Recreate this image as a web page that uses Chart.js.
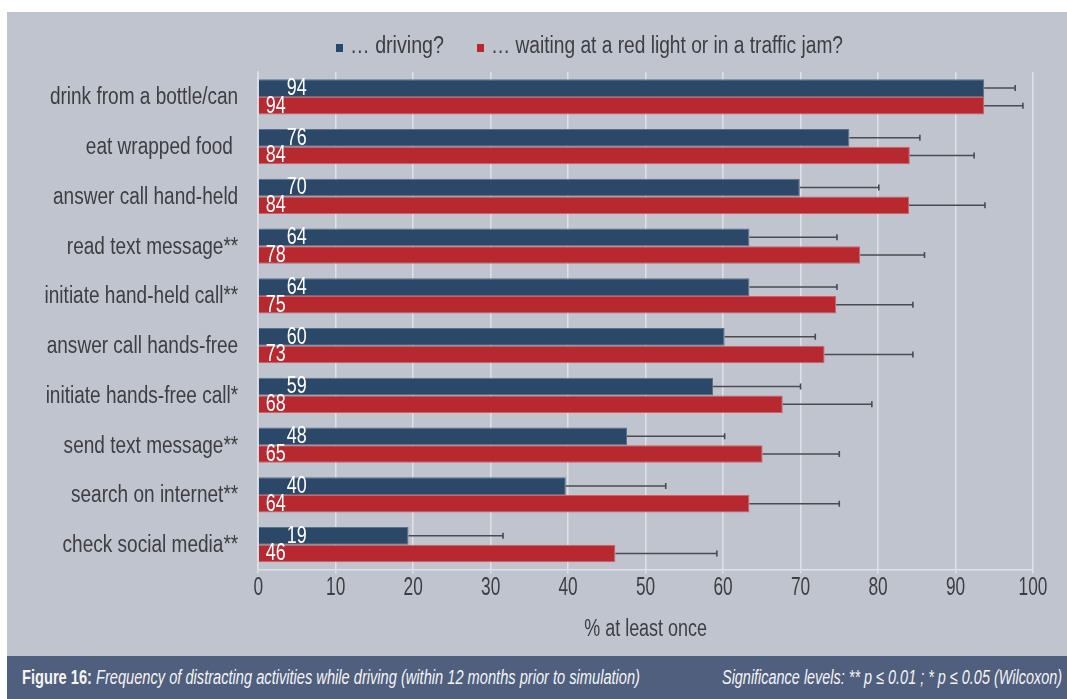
<!DOCTYPE html>
<html>
<head>
<meta charset="utf-8">
<script src="https://cdn.jsdelivr.net/npm/chart.js@4.4.1/dist/chart.umd.min.js"></script>
<style>
  html, body { margin: 0; padding: 0; background: #ffffff; }
  body { width: 1067px; height: 699px; position: relative; overflow: hidden;
         font-family: "Liberation Sans", Arial, sans-serif; }
  #panel { position: absolute; left: 7px; top: 12px; width: 1060px; height: 644px; background: #c0c4cf; }
  #chart-wrap { position: absolute; left: 0; top: 0; width: 1060px; height: 644px; }
  .leg { position: absolute; top: 15px; font-size: 23px; color: #3e3e42; white-space: nowrap; line-height: 36px; }
  .leg i { display: inline-block; width: 7px; height: 8px; vertical-align: 1px; }
  .leg span { display: inline-block; transform-origin: left center; }
  #caption { position: absolute; left: 7px; top: 656px; width: 1060px; height: 43px; background: #4f5f7d; color: #f4f4f6;
             font-size: 20px; line-height: 43px; }
  #caption span { position: absolute; left: 0; top: 0; white-space: nowrap; transform-origin: left center; }
  #caption .r { font-style: italic; }
</style>
</head>
<body>
<div id="panel">
  <div id="chart-wrap"><canvas id="distractionChart" width="1060" height="644"></canvas></div>
  <div id="legend"></div>
</div>
<div id="caption">
  <span class="l" data-x="15" data-w="618"><b>Figure 16:</b> <i>Frequency of distracting activities while driving (within 12 months prior to simulation)</i></span>
  <span class="r" data-x="715" data-w="340">Significance levels: ** p ≤ 0.01 ; * p ≤ 0.05 (Wilcoxon)</span>
</div>
<script>
const activities = [
    'drink from a bottle/can', 'eat wrapped food ', 'answer call hand-held', 'read text message**',
    'initiate hand-held call**', 'answer call hands-free', 'initiate hands-free call*',
    'send text message**', 'search on internet**', 'check social media**'
];
const seriesNames = ['\u2026 driving?', '\u2026 waiting at a red light or in a traffic jam?'];

// bar lengths (% at least once) and printed labels
const driving      = [93.7, 76.3, 69.9, 63.4, 63.4, 60.2, 58.7, 47.6, 39.7, 19.4];
const waiting      = [93.7, 84.1, 84.0, 77.7, 74.6, 73.1, 67.7, 65.1, 63.4, 46.1];
const drivingShown = [94, 76, 70, 64, 64, 60, 59, 48, 40, 19];
const waitingShown = [94, 84, 84, 78, 75, 73, 68, 65, 64, 46];

// upper ends of the error bars
const drivingUpper = [97.7, 85.4, 80.1, 74.7, 74.7, 71.9, 70.0, 60.2, 52.6, 31.6];
const waitingUpper = [98.7, 92.4, 93.8, 86.0, 84.5, 84.5, 79.2, 75.0, 75.0, 59.2];

const xTicks = [0, 10, 20, 30, 40, 50, 60, 70, 80, 90, 100];
const axisTitle = '% at least once';

const FONT = '"Liberation Sans", Arial, sans-serif';
const TEXT = '#3e3e42';
const colors = ['#2c4868', '#b8282f'];
const shown = [drivingShown, waitingShown];
const uppers = [drivingUpper, waitingUpper];

// --- HTML legend (boxes + condensed text) ---
const legendLeft = [329, 469.7];
const legendWidth = [94, 352];
document.getElementById('legend').innerHTML = seriesNames.map((name, i) =>
    `<div class="leg" style="left:${legendLeft[i]}px"><i style="background:${colors[i]}"></i><span data-w="${legendWidth[i]}" style="margin-left:7px">${name}</span></div>`
).join('');

// squeeze text spans horizontally to mimic the condensed face
function condense(el, x) {
    const w = el.getBoundingClientRect().width;
    const s = (+el.dataset.w) / w;
    el.style.transform = (x !== undefined ? `translateX(${x}px) ` : '') + `scaleX(${s})`;
}
document.querySelectorAll('.leg span').forEach(el => condense(el));
document.querySelectorAll('#caption span').forEach(el => condense(el, +el.dataset.x));

// draw text squeezed horizontally
function narrowText(ctx, text, x, y, size, sx, align, color) {
    ctx.save();
    ctx.translate(x, y);
    ctx.scale(sx, 1);
    ctx.font = size + 'px ' + FONT;
    ctx.fillStyle = color;
    ctx.textAlign = align;
    ctx.textBaseline = 'middle';
    ctx.fillText(text, 0, 0);
    ctx.restore();
}

// axis labels, error bars, value labels
const overlayPlugin = {
    id: 'overlay',
    afterDraw(chart) {
        const ctx = chart.ctx;
        const xs = chart.scales.x;
        const ys = chart.scales.y;
        const area = chart.chartArea;

        chart.data.labels.forEach((lab, i) => {
            narrowText(ctx, lab, area.left - 20, ys.getPixelForValue(i) + 1, 23.5, 0.81, 'right', TEXT);
        });
        xTicks.forEach(v => {
            narrowText(ctx, String(v), xs.getPixelForValue(v), area.bottom + 18.5, 25, 0.69, 'center', TEXT);
        });
        narrowText(ctx, axisTitle, (area.left + area.right) / 2, area.bottom + 60, 23, 0.78, 'center', TEXT);

        chart.data.datasets.forEach((ds, d) => {
            const meta = chart.getDatasetMeta(d);
            meta.data.forEach((bar, i) => {
                const y = bar.y;
                const x0 = xs.getPixelForValue(ds.data[i]);
                const x1 = xs.getPixelForValue(uppers[d][i]);
                ctx.save();
                ctx.strokeStyle = '#4a4b50';
                ctx.lineWidth = 1.6;
                ctx.beginPath();
                ctx.moveTo(x0, y); ctx.lineTo(x1, y);
                ctx.moveTo(x1, y - 3); ctx.lineTo(x1, y + 3);
                ctx.stroke();
                ctx.restore();
                const base = xs.getPixelForValue(0);
                narrowText(ctx, String(shown[d][i]), base + (d === 0 ? 28.5 : 7.5), y + 0.5, 23, 0.78, 'left', '#ffffff');
            });
        });
    }
};

new Chart(document.getElementById('distractionChart'), {
    type: 'bar',
    data: {
        labels: activities,
        datasets: [
            { label: seriesNames[0], data: driving, backgroundColor: colors[0], borderColor: '#5d6f8a', borderWidth: 1 },
            { label: seriesNames[1], data: waiting, backgroundColor: colors[1], borderColor: '#c9646b', borderWidth: 1 }
        ]
    },
    options: {
        indexAxis: 'y',
        responsive: false,
        animation: false,
        categoryPercentage: 0.71,
        barPercentage: 1.0,
        layout: { padding: { left: 0, top: 60, right: 34, bottom: 0 } },
        plugins: { legend: { display: false }, tooltip: { enabled: false } },
        scales: {
            x: {
                min: 0, max: 100,
                afterBuildTicks: s => { s.ticks = xTicks.map(v => ({ value: v })); },
                afterFit: s => { s.height = 86.5; },
                grid: { color: '#dfe1e7', lineWidth: 1.5, drawTicks: true, tickLength: 4 },
                border: { color: '#dfe1e7', width: 1.5 },
                ticks: { display: false }
            },
            y: {
                afterFit: s => { s.width = 251.2; },
                grid: { display: false },
                border: { color: '#dfe1e7', width: 1.5 },
                ticks: { display: false }
            }
        }
    },
    plugins: [overlayPlugin]
});
</script>
</body>
</html>
